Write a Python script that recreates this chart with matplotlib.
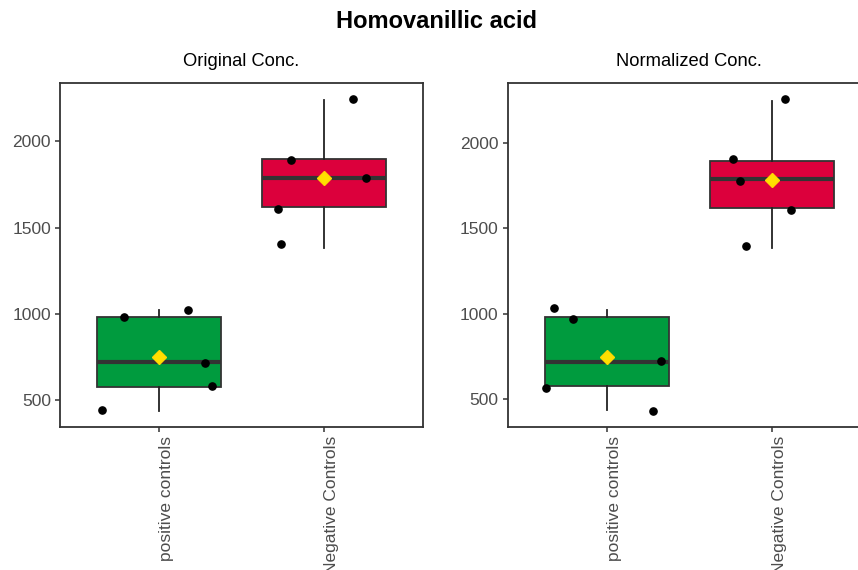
import matplotlib
matplotlib.use('Agg')
import matplotlib.pyplot as plt
import matplotlib.transforms as mtransforms
import numpy as np

plt.rcParams['font.family'] = ['Liberation Sans', 'DejaVu Sans']

main_title = 'Homovanillic acid'
panel_titles = ['Original Conc.', 'Normalized Conc.']
categories = ['positive controls', 'Negative Controls']
box_colors = ['#009B3E', '#DC003C']

# Box statistics: [positive controls, Negative Controls]
orig_q1 = [571, 1620]
orig_med = [720, 1786]
orig_q3 = [979, 1896]
orig_whislo = [432, 1384]
orig_whishi = [1023, 2241]
orig_mean = [747, 1785]

norm_q1 = [572, 1619]
norm_med = [716, 1791]
norm_q3 = [981, 1897]
norm_whislo = [436, 1387]
norm_whishi = [1022, 2247]
norm_mean = [747, 1784]

# Individual (jittered) points
orig_pos_vals = [442, 979, 1021, 714, 579]
orig_pos_jit = [-0.345, -0.212, 0.174, 0.281, 0.319]
orig_neg_vals = [1890, 1788, 1610, 1402, 2249]
orig_neg_jit = [-0.200, 0.255, -0.277, -0.259, 0.178]

norm_pos_vals = [1035, 969, 566, 724, 426]
norm_pos_jit = [-0.319, -0.202, -0.370, 0.327, 0.282]
norm_neg_vals = [1904, 1779, 1609, 1396, 2261]
norm_neg_jit = [-0.233, -0.192, 0.117, -0.158, 0.082]

yticks = [500, 1000, 1500, 2000]

W, H = 858, 570
fig = plt.figure(figsize=(W / 100, H / 100), dpi=100)
fig.patch.set_facecolor('white')

def px_axes(left, top, right, bottom):
    return fig.add_axes([left / W, 1 - bottom / H, (right - left) / W, (bottom - top) / H])

ax1 = px_axes(60, 83, 423, 427)
ax2 = px_axes(507.7, 83, 870.7, 427)

panels = [
    (ax1, panel_titles[0], orig_q1, orig_med, orig_q3, orig_whislo, orig_whishi, orig_mean,
     [(orig_pos_vals, orig_pos_jit), (orig_neg_vals, orig_neg_jit)]),
    (ax2, panel_titles[1], norm_q1, norm_med, norm_q3, norm_whislo, norm_whishi, norm_mean,
     [(norm_pos_vals, norm_pos_jit), (norm_neg_vals, norm_neg_jit)]),
]

for ax, title, q1, med, q3, wlo, whi, mean, pts in panels:
    stats = []
    for i in range(len(categories)):
        stats.append(dict(q1=q1[i], med=med[i], q3=q3[i], whislo=wlo[i], whishi=whi[i],
                          fliers=[], label=categories[i]))
    positions = np.arange(1, len(categories) + 1)
    bp = ax.bxp(stats, positions=positions, widths=0.75, patch_artist=True,
                showcaps=False, showfliers=False,
                boxprops=dict(linewidth=1.3, edgecolor='#333333'),
                medianprops=dict(color='#333333', linewidth=3.0, solid_capstyle='butt'),
                whiskerprops=dict(color='#222222', linewidth=1.3),
                zorder=2)
    for patch, c in zip(bp['boxes'], box_colors):
        patch.set_facecolor(c)
    allv = []
    for i, (vals, jit) in enumerate(pts):
        x = positions[i] + np.array(jit)
        ax.plot(x, vals, 'o', color='black', markersize=5.2, zorder=4, linestyle='none')
        allv += list(vals)
    ax.plot(positions, mean, 'D', color='#FFE000', markeredgecolor='#FFD700',
            markersize=7, zorder=5, linestyle='none')
    lo = min(allv + list(wlo))
    hi = max(allv + list(whi))
    rng = hi - lo
    ax.set_ylim(lo - 0.05 * rng, hi + 0.05 * rng)
    ax.set_xlim(0.4, len(categories) + 0.6)
    ax.set_yticks(yticks)
    ax.set_yticklabels([str(t) for t in yticks], fontsize=12.5, color='#4D4D4D')
    ax.set_xticks(positions)
    ax.set_xticklabels(categories, rotation=90, fontsize=12.5, color='#4D4D4D',
                       ha='left', va='top')
    offset = mtransforms.ScaledTranslation(1.5 / 100, 0, fig.dpi_scale_trans)
    for lab in ax.get_xticklabels():
        lab.set_transform(lab.get_transform() + offset)
    ax.tick_params(axis='both', direction='out', length=3.5, width=1.1, color='#333333', pad=3)
    for s in ax.spines.values():
        s.set_color('#333333')
        s.set_linewidth(1.3)
    ax.set_facecolor('white')
    ax.grid(False)
    # subtitle
    pos = ax.get_position()
    fig.text((pos.x0 + pos.x1) / 2, 1 - 61 / H, title, ha='center', va='center',
             fontsize=13.2, color='black')

fig.text(436 / W, 1 - 22 / H, main_title, ha='center', va='center',
         fontsize=17, fontweight='bold', color='black')

fig.savefig('out.png', dpi=100, facecolor='white')
